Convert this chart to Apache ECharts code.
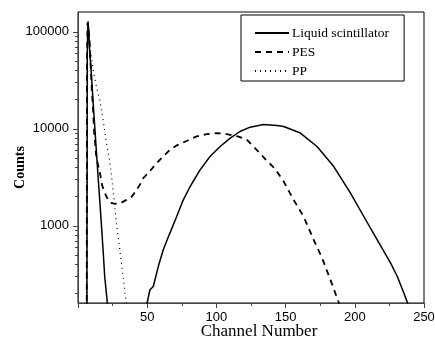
<!DOCTYPE html>
<html>
<head>
<meta charset="utf-8">
<script src="https://cdn.jsdelivr.net/npm/echarts@6/dist/echarts.min.js"></script>
<style>html,body{margin:0;padding:0;background:#fff}#c{width:435px;height:340px}</style>
</head>
<body>
<div id="c"></div>
<script>
var seriesNames = ['Liquid scintillator', 'PES', 'PP'];
var xTicks = [0, 50, 100, 150, 200, 250];
var yMajorTicks = [1000, 10000, 100000];
var yMinorTicks = [200, 300, 400, 500, 600, 700, 800, 900,
  2000, 3000, 4000, 5000, 6000, 7000, 8000, 9000,
  20000, 30000, 40000, 50000, 60000, 70000, 80000, 90000];

var liquidData = [
  [6.4, 100], [6.7, 60000], [7.2, 128000], [7.6, 110000], [8.5, 60000], [9.7, 36000],
  [11, 18000], [12.1, 10570], [13.3, 5800], [14.5, 3220], [15.8, 1750], [17, 985],
  [18.2, 540], [19.3, 300], [21, 172], [21.5, 140],
  [35, '-'],
  [49.5, 140], [50, 162], [52, 219], [54.4, 237], [58, 380], [61.6, 566], [66.4, 841],
  [71.3, 1247], [76.1, 1853], [81, 2540], [88.2, 3775], [95.4, 5180], [102.7, 6570],
  [110, 8020], [117, 9380], [124.4, 10400], [134, 11070], [143.8, 10800], [148.6, 10570],
  [160.7, 9040], [172.7, 6570], [184.8, 4080], [196.9, 2170], [206.5, 1247], [216.2, 717],
  [225.9, 412], [230.7, 300], [235.5, 202], [238, 162], [239, 140]
];
var pesData = [
  [6.3, 100], [6.5, 50000], [6.9, 125000], [7.4, 130000], [8.2, 90000], [9, 50000],
  [10, 25000], [10.9, 15700], [11.6, 9500], [13, 5500], [14.5, 4200], [15.7, 3600],
  [17.5, 2600], [19.3, 2190], [21.7, 1853], [23.5, 1730], [25.4, 1700], [28, 1680],
  [31, 1720], [35, 1850], [39, 2000], [44.7, 2650], [47.1, 3100], [50.7, 3490],
  [56.8, 4420], [61, 5100], [66.4, 6080], [71, 6700], [76.1, 7230], [81, 7800],
  [85.8, 8340], [93, 8800], [100.3, 9040], [105, 8950], [110, 8680], [116, 8300],
  [122, 7710], [126.8, 6570], [131, 5700], [135.8, 4790], [142.5, 3840], [148.6, 2860],
  [155.8, 1853], [163, 1247], [170.3, 717], [176.4, 464], [182.4, 277], [188.4, 162],
  [189, 140]
];
var ppData = [
  [6.5, 100], [6.8, 60000], [7.3, 120000], [8, 100000], [9, 65000], [10.9, 40600],
  [13.3, 27300], [15.7, 20000], [18.1, 12400], [20.6, 7110], [22.5, 5000], [24.3, 3200],
  [26.1, 1853], [27.8, 1060], [30.2, 566], [32.6, 300], [34.3, 187], [35.5, 140]
];

var chart = echarts.init(document.getElementById('c'), null, {renderer: 'canvas'});
var serif = '"Liberation Serif", "Times New Roman", serif';
var sans = 'Arial, "Liberation Sans", sans-serif';

function lineSeries(name, data, type, width) {
  return {
    name: name, type: 'line', data: data, symbol: 'none', showSymbol: false,
    connectNulls: false, clip: true, animation: false,
    lineStyle: {color: '#000', width: width, type: type},
    itemStyle: {color: '#000'}
  };
}

chart.setOption({
  animation: false,
  backgroundColor: '#fff',
  grid: {left: 78, top: 12, right: 11, bottom: 37, outerBoundsMode: 'none', containLabel: false,
    show: true, borderColor: '#000', borderWidth: 1, backgroundColor: 'transparent'},
  legend: {
    orient: 'vertical', left: 241, top: 15,
    padding: [11, 15, 3, 13], itemGap: 5, itemWidth: 34, itemHeight: 14,
    borderColor: '#000', borderWidth: 1, backgroundColor: '#fff',
    itemStyle: {color: 'transparent', borderWidth: 0, opacity: 0},
    textStyle: {fontFamily: serif, fontSize: 13.5, color: '#000', padding: [0, 0, 0, -2]},
    data: seriesNames
  },
  xAxis: {
    type: 'value', min: xTicks[0], max: xTicks[xTicks.length - 1], interval: 50,
    name: 'Channel Number', nameLocation: 'middle', nameGap: 20, nameMoveOverlap: false,
    nameTextStyle: {fontFamily: serif, fontSize: 17, color: '#000', padding: [0, 0, 0, 16]},
    axisLine: {lineStyle: {color: '#444', width: 1}},
    axisTick: {show: true, inside: false, length: 5, lineStyle: {color: '#444'}},
    minorTick: {show: true, splitNumber: 2, length: 3, lineStyle: {color: '#444'}},
    splitLine: {show: false},
    axisLabel: {
      fontFamily: sans, fontSize: 13, color: '#000', margin: 8,
      formatter: function (v) { return v === 0 ? '' : String(v); }
    }
  },
  yAxis: [{
    type: 'log', logBase: 10, min: 160, max: 160000,
    name: 'Counts', nameLocation: 'middle', nameGap: 51, nameMoveOverlap: false,
    nameTextStyle: {fontFamily: serif, fontSize: 14, fontWeight: 'bold', color: '#000', padding: [0, 20, 0, 0]},
    axisLine: {show: true, lineStyle: {color: '#444', width: 1}},
    axisTick: {show: true, inside: false, length: 5, customValues: yMajorTicks, lineStyle: {color: '#444'}},
    splitLine: {show: false},
    axisLabel: {
      fontFamily: sans, fontSize: 13, color: '#000', margin: 9,
      customValues: yMajorTicks,
      formatter: function (v) { return String(Math.round(v)); }
    }
  }, {
    type: 'log', logBase: 10, min: 160, max: 160000, position: 'left', offset: 0,
    axisLine: {show: true, lineStyle: {color: '#444', width: 1}},
    axisTick: {show: true, inside: false, length: 3, customValues: yMinorTicks, lineStyle: {color: '#444'}},
    splitLine: {show: false},
    axisLabel: {show: false}
  }],
  series: [
    lineSeries(seriesNames[0], liquidData, 'solid', 1.5),
    lineSeries(seriesNames[1], pesData, [6, 5], 1.8),
    lineSeries(seriesNames[2], ppData, [1, 4], 1.2)
  ]
});
</script>
</body>
</html>
